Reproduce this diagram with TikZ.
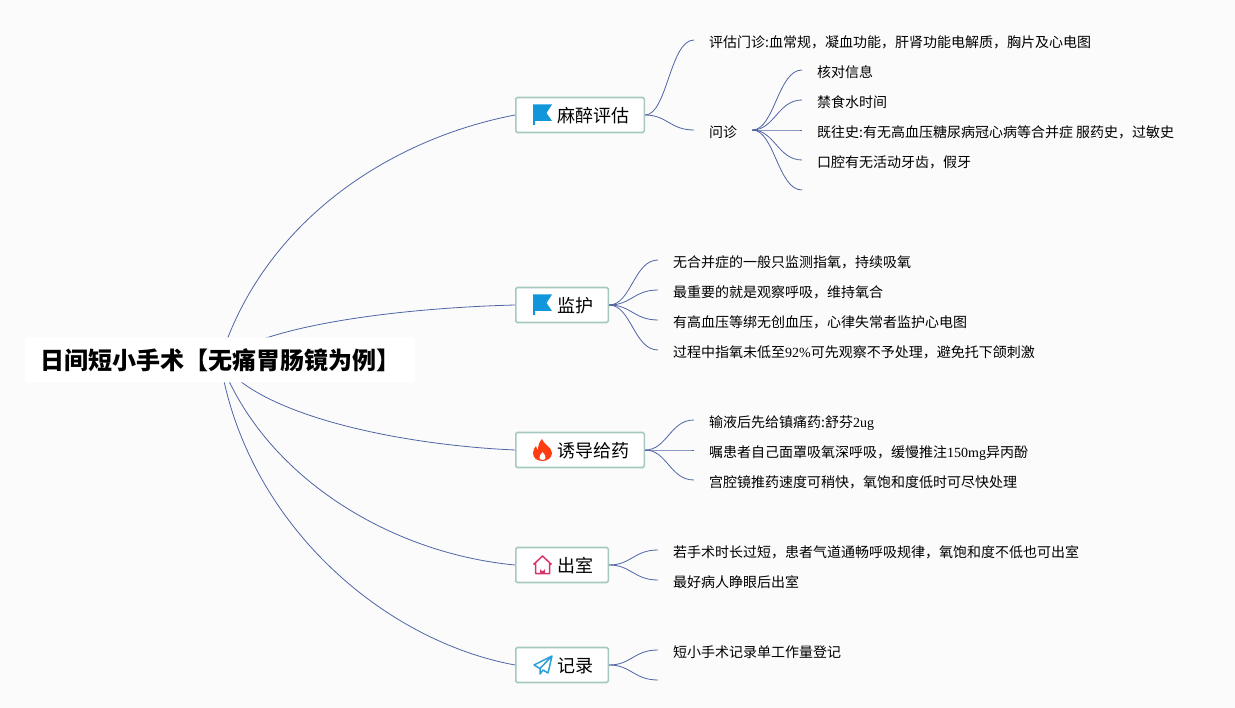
\documentclass[tikz,border=0pt]{standalone}
\usepackage{fontspec}
\setmainfont{Liberation Serif}
\newfontfamily\cjkfont{Noto Sans CJK SC}
\usetikzlibrary{backgrounds}
\definecolor{pagecol}{HTML}{FBFBFC}
\definecolor{linkcol}{HTML}{4F64A3}
\definecolor{edgecol}{HTML}{A5C9BF}
\definecolor{flagcol}{HTML}{1296DB}
\definecolor{flamecol}{HTML}{FF3D10}
\definecolor{housecol}{HTML}{D9336B}
\definecolor{planecol}{HTML}{2C9FD9}
\newcommand{\num}[1]{{\rmfamily #1}}
\tikzset{
    rootbox/.style={fill=white,rounded corners=3pt,minimum width=390pt,minimum height=45pt,inner sep=0pt,
        text height=22pt,text depth=2.8pt,font=\cjkfont\bfseries\fontsize{24}{28}\selectfont},
    topicbox/.style={draw=edgecol,line width=1.6pt,fill=white,rounded corners=1.5pt,minimum height=35pt,
        inner xsep=14.5pt,inner ysep=0pt,anchor=west,text height=18pt,text depth=2.4pt,font=\cjkfont\fontsize{18}{22}\selectfont},
    leaf/.style={anchor=west,inner xsep=15pt,inner ysep=2pt,text height=16.5pt,text depth=2pt,font=\cjkfont\fontsize{14}{18}\selectfont},
    link/.style={draw=linkcol,line width=0.8pt},
    flag/.pic={\fill[flagcol] (18,-10.5) -- (37,-10.5) -- (31.5,-2) -- (37,6) -- (20,6) -- (20,10) -- (18,10) -- cycle;},
    flame/.pic={\fill[flamecol] (27,-11) .. controls (28,-6) and (37,-3) .. (37,3) .. controls (37,8) and (32,11) .. (27.5,11)
        .. controls (22,11) and (18,8) .. (18,3) .. controls (18,0) and (20,-3) .. (21,-4) .. controls (21.5,-2) and (22,-1) .. (23,0)
        .. controls (23,-4) and (24,-8) .. (27,-11) -- cycle;
        \fill[white] (27.5,2) .. controls (29,4) and (31,6) .. (30.5,8) .. controls (30,10.5) and (25,10.5) .. (24.5,8) .. controls (24,6) and (26,4) .. (27.5,2) -- cycle;},
    house/.pic={\draw[housecol,line width=1.5pt,line join=round] (18.5,-0.5) -- (27.5,-9) -- (36.5,-0.5) (20.5,-2) -- (20.5,8.5) -- (34.5,8.5) -- (34.5,-2);
        \fill[housecol] (25,8.5) -- (25,3.5) arc[start angle=180,end angle=0,radius=2.5] -- (30,8.5) -- cycle;},
    plane/.pic={\draw[planecol,line width=1.5pt,line join=round] (37,-9) -- (19,0) -- (25,3.5) -- (37,-9) -- (33,8) -- (28,5) -- (25,9) -- (25,3.5);}
}
\begin{document}
\begin{tikzpicture}[x=1pt,y=-1pt]
    \useasboundingbox (0,0) rectangle (1235,708);

    \node[rootbox] (root) at (220,360) {\hspace*{1pt}日间短小手术【无痛胃肠镜为例】};

    \node[topicbox] (mazui) at (515,115) {\hspace*{27.5pt}麻醉评估};
    \node[topicbox] (jianhu) at (515,305) {\hspace*{27.5pt}监护};
    \node[topicbox] (youdao) at (515,450) {\hspace*{27.5pt}诱导给药};
    \node[topicbox] (chushi) at (515,565) {\hspace*{27.5pt}出室};
    \node[topicbox] (jilu) at (515,665) {\hspace*{27.5pt}记录};
    \pic at (mazui.west) {flag};
    \pic at (jianhu.west) {flag};
    \pic at (youdao.west) {flame};
    \pic at (chushi.west) {house};
    \pic at (jilu.west) {plane};

    % first topic
    \node[leaf] (pinggu) at (694,40) {评估门诊:血常规，凝血功能，肝肾功能电解质，胸片及心电图};
    \node[leaf] (wenzhen) at (694,130) {问诊};
    \node[leaf] (hedui) at (802,70) {核对信息};
    \node[leaf] (jinshi) at (802,100) {禁食水时间};
    \node[leaf] (jiwang) at (802,130) {既往史:有无高血压糖尿病冠心病等合并症 服药史，过敏史};
    \node[leaf] (kouqiang) at (802,160) {口腔有无活动牙齿，假牙};
    \coordinate (wenzhenEnd) at (802,190);

    % second topic
    \node[leaf] (jh1) at (658,260) {无合并症的一般只监测指氧，持续吸氧};
    \node[leaf] (jh2) at (658,290) {最重要的就是观察呼吸，维持氧合};
    \node[leaf] (jh3) at (658,320) {有高血压等绑无创血压，心律失常者监护心电图};
    \node[leaf] (jh4) at (658,350) {过程中指氧未低至\num{92\%}可先观察不予处理，避免托下颌刺激};

    % third topic
    \node[leaf] (yd1) at (694,420) {输液后先给镇痛药:舒芬\num{2ug}};
    \node[leaf] (yd2) at (694,450) {嘱患者自己面罩吸氧深呼吸，缓慢推注\num{150mg}异丙酚};
    \node[leaf] (yd3) at (694,480) {宫腔镜推药速度可稍快，氧饱和度低时可尽快处理};

    % last two
    \node[leaf] (cs1) at (658,550) {若手术时长过短，患者气道通畅呼吸规律，氧饱和度不低也可出室};
    \node[leaf] (cs2) at (658,580) {最好病人睁眼后出室};
    \node[leaf] (jl1) at (658,650) {短小手术记录单工作量登记};
    \coordinate (jiluEnd) at (658,680);

    \begin{scope}[on background layer]
        \fill[pagecol] (0,0) rectangle (1235,708);
        \draw[link] (root.center) .. controls (262,225) and (385,140) .. (mazui.west);
        \draw[link] (root.center) .. controls (265,325) and (400,308) .. (jianhu.west);
        \draw[link] (root.center) .. controls (255,415) and (400,445) .. (youdao.west);
        \draw[link] (root.center) .. controls (263,475) and (388,553) .. (chushi.west);
        \draw[link] (root.center) .. controls (245,520) and (380,640) .. (jilu.west);
    \end{scope}

    \foreach \kid in {pinggu,wenzhen}
        \draw[link] (mazui.east) .. controls +(22,0) and ([xshift=-24pt]\kid.west) .. (\kid.west);
    \foreach \kid in {hedui,jinshi,jiwang,kouqiang}
        \draw[link] (wenzhen.east) .. controls +(22,0) and ([xshift=-24pt]\kid.west) .. (\kid.west);
    \draw[link] (wenzhen.east) .. controls +(22,0) and (778,190) .. (wenzhenEnd);
    \foreach \kid in {jh1,jh2,jh3,jh4}
        \draw[link] (jianhu.east) .. controls +(22,0) and ([xshift=-24pt]\kid.west) .. (\kid.west);
    \foreach \kid in {yd1,yd2,yd3}
        \draw[link] (youdao.east) .. controls +(22,0) and ([xshift=-24pt]\kid.west) .. (\kid.west);
    \foreach \kid in {cs1,cs2}
        \draw[link] (chushi.east) .. controls +(22,0) and ([xshift=-24pt]\kid.west) .. (\kid.west);
    \draw[link] (jilu.east) .. controls +(22,0) and ([xshift=-24pt]jl1.west) .. (jl1.west);
    \draw[link] (jilu.east) .. controls +(22,0) and (634,680) .. (jiluEnd);
\end{tikzpicture}
\end{document}
